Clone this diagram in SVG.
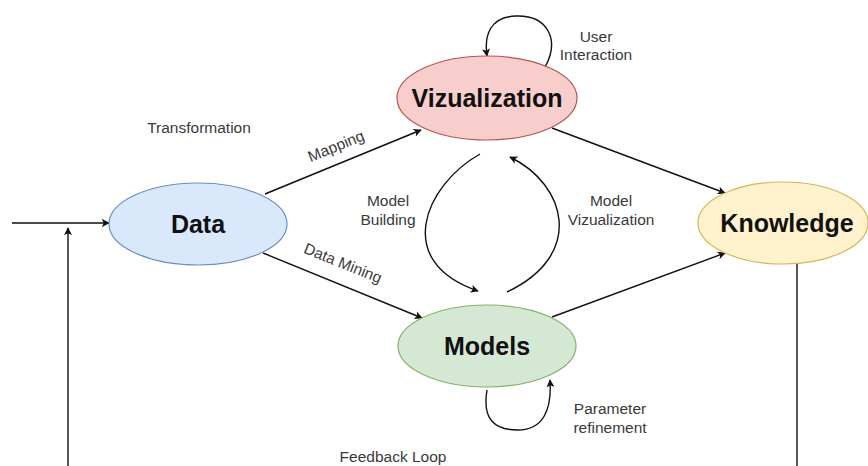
<svg xmlns="http://www.w3.org/2000/svg" width="868" height="466" viewBox="0 0 868 466">
  <style>
    .node-label { font-family: "Liberation Sans", Arial, sans-serif; font-weight: bold; font-size: 25px; fill: #111; text-anchor: middle; }
    .edge-label { font-family: "Liberation Sans", Arial, sans-serif; font-size: 15.5px; fill: #3a3a3a; text-anchor: middle; }
    .edge { fill: none; stroke: #111; stroke-width: 1.4; }
    .arrow { marker-end: url(#head); }
  </style>
  <defs>
    <marker id="head" viewBox="0 0 10 10" refX="9" refY="5" markerWidth="8" markerHeight="8" markerUnits="userSpaceOnUse" orient="auto">
      <path d="M0,0 L10,5 L0,10 L2.5,5 z" fill="#111"/>
    </marker>
  </defs>

  <rect width="868" height="466" fill="#ffffff"/>

  <g id="connectors">
    <!-- incoming data -->
    <line class="edge arrow" x1="12" y1="223" x2="109" y2="223"/>
    <!-- feedback loop: knowledge back to data -->
    <line class="edge" x1="797" y1="264" x2="797" y2="466"/>
    <line class="edge arrow" x1="68" y1="466" x2="68" y2="228"/>
    <!-- data to visualization / models -->
    <line class="edge arrow" x1="265" y1="194" x2="421" y2="130"/>
    <line class="edge arrow" x1="263" y1="253" x2="422" y2="318"/>
    <!-- into knowledge -->
    <line class="edge arrow" x1="552" y1="128" x2="725" y2="193"/>
    <line class="edge arrow" x1="552" y1="317" x2="725" y2="253"/>
    <!-- model building / model visualization -->
    <path class="edge arrow" d="M480,154 C425,185 392,262 478,291"/>
    <path class="edge arrow" d="M507,292 C585,255 567,185 510,157"/>
    <!-- user interaction loop -->
    <path class="edge arrow" d="M545,67 C560,40 548,15 516,16 C490,17 484,35 487,56"/>
    <!-- parameter refinement loop -->
    <path class="edge arrow" d="M487,390 C482,420 495,430 518,430 C543,430 552,410 550,380"/>
  </g>

  <g id="data">
    <ellipse cx="198" cy="224" rx="89" ry="41" fill="#dae8fc" stroke="#6c8ebf" stroke-width="1.2"/>
    <text class="node-label" x="198" y="233">Data</text>
  </g>

  <g id="vizualization">
    <ellipse cx="487" cy="98" rx="90" ry="42" fill="#f8cecc" stroke="#b85450" stroke-width="1.2"/>
    <text class="node-label" x="487" y="107">Vizualization</text>
  </g>

  <g id="knowledge">
    <ellipse cx="783" cy="223" rx="85" ry="41" fill="#fff2cc" stroke="#d6b656" stroke-width="1.2"/>
    <text class="node-label" x="787" y="232">Knowledge</text>
  </g>

  <g id="models">
    <ellipse cx="487" cy="346" rx="89" ry="41" fill="#d5e8d4" stroke="#82b366" stroke-width="1.2"/>
    <text class="node-label" x="487" y="355">Models</text>
  </g>

  <g id="labels">
    <text class="edge-label" x="199" y="133">Transformation</text>
    <text class="edge-label" transform="translate(338,151) rotate(-22)">Mapping</text>
    <text class="edge-label" transform="translate(341,268) rotate(22)">Data Mining</text>
    <text class="edge-label" x="388" y="206">Model</text>
    <text class="edge-label" x="388" y="225">Building</text>
    <text class="edge-label" x="611" y="206">Model</text>
    <text class="edge-label" x="611" y="225">Vizualization</text>
    <text class="edge-label" x="596" y="42">User</text>
    <text class="edge-label" x="596" y="60">Interaction</text>
    <text class="edge-label" x="610" y="414">Parameter</text>
    <text class="edge-label" x="610" y="433">refinement</text>
    <text class="edge-label" x="393" y="462">Feedback Loop</text>
  </g>
</svg>
